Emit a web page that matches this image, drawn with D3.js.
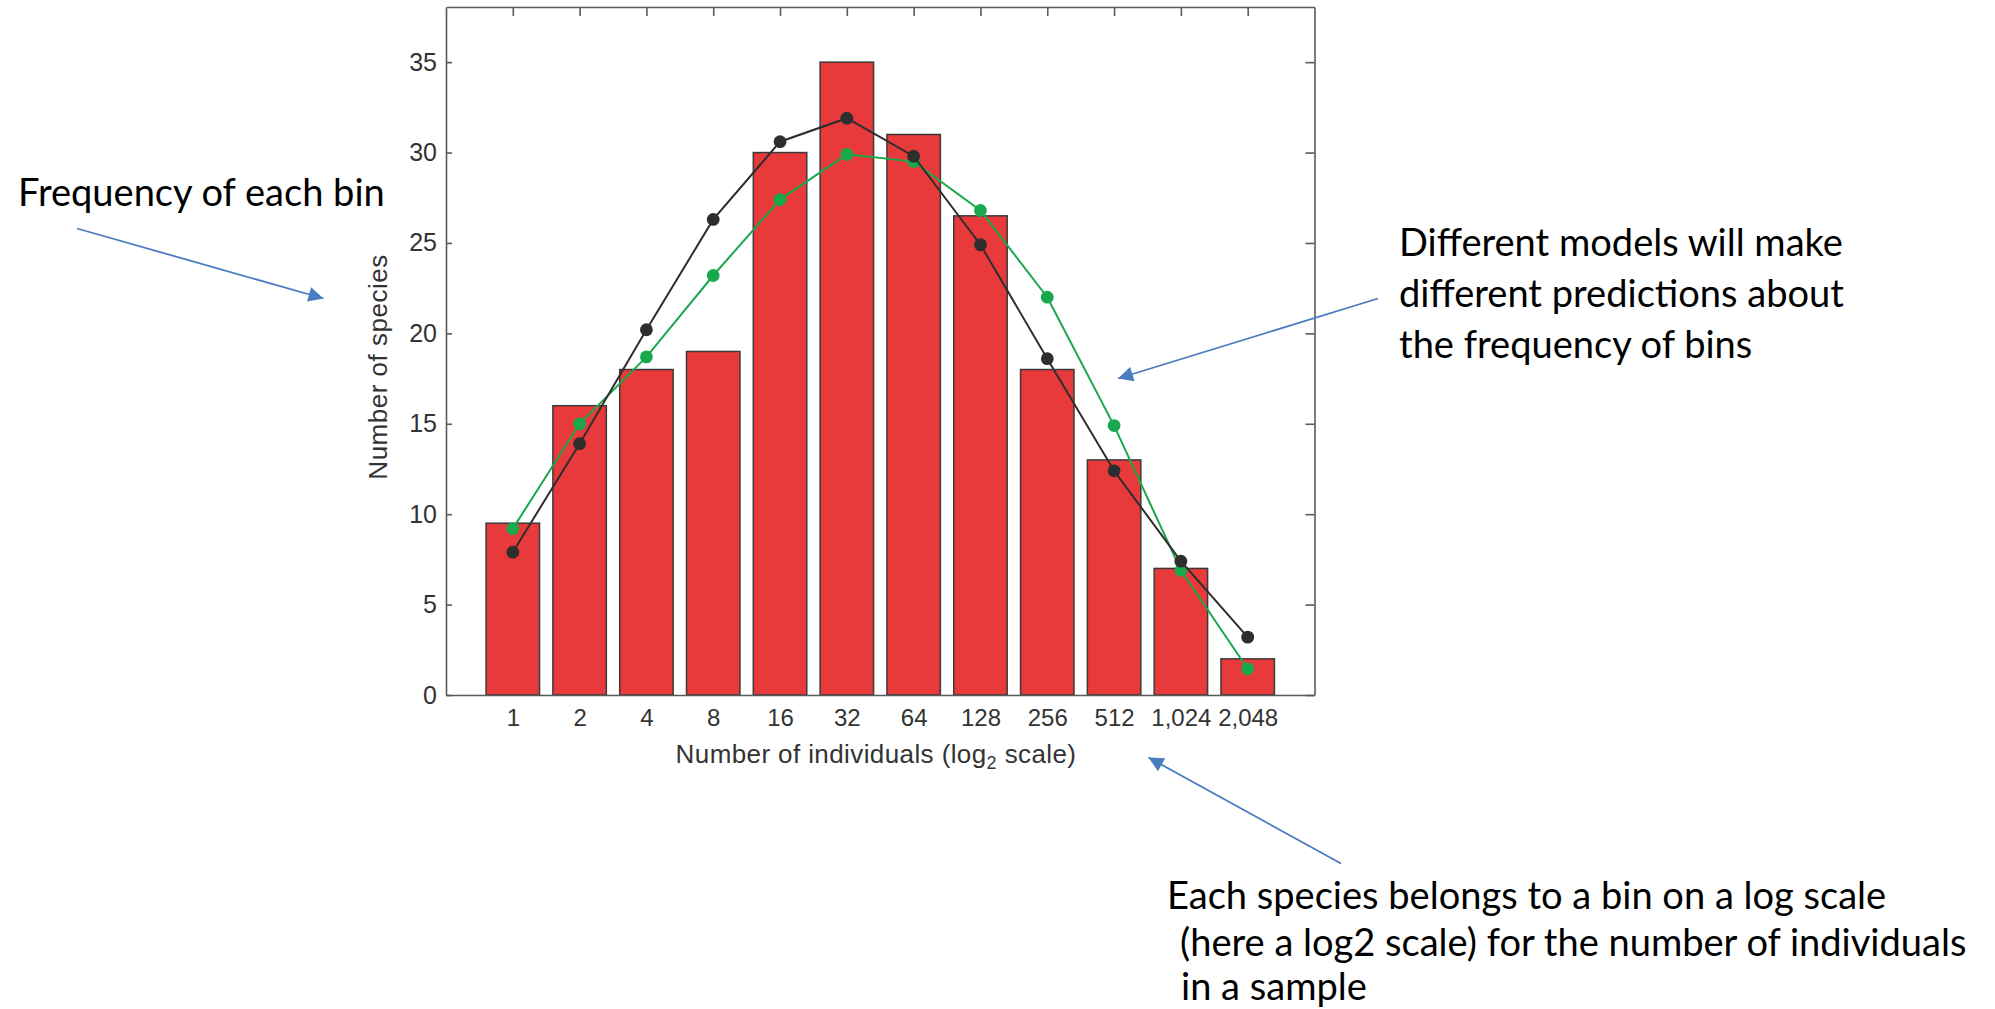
<!DOCTYPE html>
<html>
<head>
<meta charset="utf-8">
<script src="https://cdn.jsdelivr.net/npm/d3@7"></script>
<style>
  html, body { margin: 0; padding: 0; background: #fff; }
  svg { display: block; }
</style>
</head>
<body>
<svg id="chart" width="1995" height="1009"></svg>
<script>
// Abundance bins (log2 classes of number of individuals)
const categories = ["1", "2", "4", "8", "16", "32", "64", "128", "256", "512", "1,024", "2,048"];
// Observed number of species per bin
const observed = [9.5, 16, 18, 19, 30, 35, 31, 26.5, 18, 13, 7, 2];
// Predictions of two competing models
const modelDark = [7.9, 13.9, 20.2, 26.3, 30.6, 31.9, 29.8, 24.9, 18.6, 12.4, 7.4, 3.2];
const modelGreen = [9.2, 15.0, 18.7, 23.2, 27.4, 29.9, 29.5, 26.8, 22.0, 14.9, 6.9, 1.45];
const yTicks = [0, 5, 10, 15, 20, 25, 30, 35];

const notes = {
  left: ["Frequency of each bin"],
  right: ["Different models will make", "different predictions about", "the frequency of bins"],
  bottom: ["Each species belongs to a bin on a log scale", "(here a log2 scale) for the number of individuals", "in a sample"]
};

const chartFont = "'Liberation Sans', Arial, Helvetica, sans-serif";
const noteFont = "Lato, 'Open Sans', sans-serif";
const axisText = "#333";

const svg = d3.select("#chart");
const box = { left: 446, right: 1314.5, top: 7, bottom: 695 };

const x = d3.scalePoint().domain(categories).range([box.left, box.right]).padding(1);
const y = d3.scaleLinear().domain([0, 38.05]).range([box.bottom, box.top]);
const barW = x.step() * 0.8;

const rows = categories.map((c, i) => ({ c, obs: observed[i], dark: modelDark[i], green: modelGreen[i] }));

// Bars
svg.append("g").selectAll("rect").data(rows).join("rect")
  .attr("x", d => x(d.c) - barW / 2)
  .attr("y", d => y(d.obs))
  .attr("width", barW)
  .attr("height", d => y(0) - y(d.obs))
  .attr("fill", "#e8393b")
  .attr("stroke", "#3a3a3a")
  .attr("stroke-width", 1.5);

// Frame and axes
const frameColor = "#5a5a5a";
const styleAxis = g => {
  g.attr("font-family", chartFont).attr("font-size", 24);
  g.select(".domain").attr("stroke", frameColor).attr("stroke-width", 1.6);
  g.selectAll(".tick line").attr("stroke", frameColor).attr("stroke-width", 1.6);
  g.selectAll(".tick text").attr("fill", axisText);
};

svg.append("g")
  .attr("transform", `translate(${box.left},0)`)
  .call(d3.axisLeft(y).tickValues(yTicks).tickSizeInner(-6).tickSizeOuter(0).tickPadding(9))
  .call(styleAxis)
  .call(g => g.attr("font-size", 25));

svg.append("g")
  .attr("transform", `translate(${box.right},0)`)
  .call(d3.axisRight(y).tickValues(yTicks).tickSizeInner(-9).tickSizeOuter(0).tickFormat(""))
  .call(styleAxis);

svg.append("g")
  .attr("transform", `translate(0,${box.top})`)
  .call(d3.axisTop(x).tickSizeInner(-9).tickSizeOuter(0).tickFormat(""))
  .call(styleAxis);

svg.append("g")
  .attr("transform", `translate(0,${box.bottom})`)
  .call(d3.axisBottom(x).tickSize(0).tickPadding(14))
  .call(styleAxis);

// Model curves
const line = key => d3.line().x(d => x(d.c)).y(d => y(d[key]));
[["green", "#19a94c"], ["dark", "#2e2e2e"]].forEach(([key, col]) => {
  svg.append("path").datum(rows)
    .attr("d", line(key))
    .attr("fill", "none")
    .attr("stroke", col)
    .attr("stroke-width", 2);
  svg.append("g").selectAll("circle").data(rows).join("circle")
    .attr("cx", d => x(d.c))
    .attr("cy", d => y(d[key]))
    .attr("r", 6.4)
    .attr("fill", col);
});

// Axis titles
const xt = svg.append("text")
  .attr("font-family", chartFont).attr("font-size", 26).attr("fill", axisText)
  .attr("letter-spacing", 0.4)
  .attr("x", 876).attr("y", 763).attr("text-anchor", "middle");
xt.append("tspan").text("Number of individuals (log");
xt.append("tspan").text("2").attr("font-size", 18).attr("dy", 6);
xt.append("tspan").text(" scale)").attr("dy", -6);

svg.append("text")
  .attr("font-family", chartFont).attr("font-size", 26).attr("fill", axisText)
  .attr("letter-spacing", 0.5)
  .attr("transform", "translate(387,367) rotate(-90)")
  .attr("text-anchor", "middle")
  .text("Number of species");

// Annotation text: size chosen so the text block widths fit the layout
const probe = svg.append("text").attr("font-family", noteFont).attr("font-size", 100).text(notes.right[0]);
const noteSize = 100 * 444 / probe.node().getComputedTextLength();
probe.remove();

const writeBlock = (lines, xs, ys) => {
  lines.forEach((t, i) => {
    svg.append("text")
      .attr("font-family", noteFont)
      .attr("font-size", noteSize)
      .attr("fill", "#000")
      .attr("x", xs[i]).attr("y", ys[i])
      .text(t);
  });
};
writeBlock(notes.left, [18], [205.5]);
writeBlock(notes.right, [1399, 1399, 1399], [256, 307, 358]);
writeBlock(notes.bottom, [1167, 1180, 1181], [909, 956, 1000]);

// Pointer arrows
const arrowColor = "#4a7cc0";
svg.append("defs").append("marker")
  .attr("id", "head")
  .attr("viewBox", "0 0 10 10")
  .attr("refX", 10).attr("refY", 5)
  .attr("markerUnits", "userSpaceOnUse")
  .attr("markerWidth", 20).attr("markerHeight", 15)
  .attr("orient", "auto")
  .append("path").attr("d", "M0,0 L10,5 L0,10 Z").attr("fill", arrowColor);

const arrows = [
  [[77, 228.5], [323.5, 298.5]],
  [[1378, 298.5], [1118, 378.5]],
  [[1341, 863.5], [1148.5, 757.5]]
];
svg.append("g").selectAll("line").data(arrows).join("line")
  .attr("x1", d => d[0][0]).attr("y1", d => d[0][1])
  .attr("x2", d => d[1][0]).attr("y2", d => d[1][1])
  .attr("stroke", arrowColor)
  .attr("stroke-width", 1.8)
  .attr("marker-end", "url(#head)");
</script>
</body>
</html>
